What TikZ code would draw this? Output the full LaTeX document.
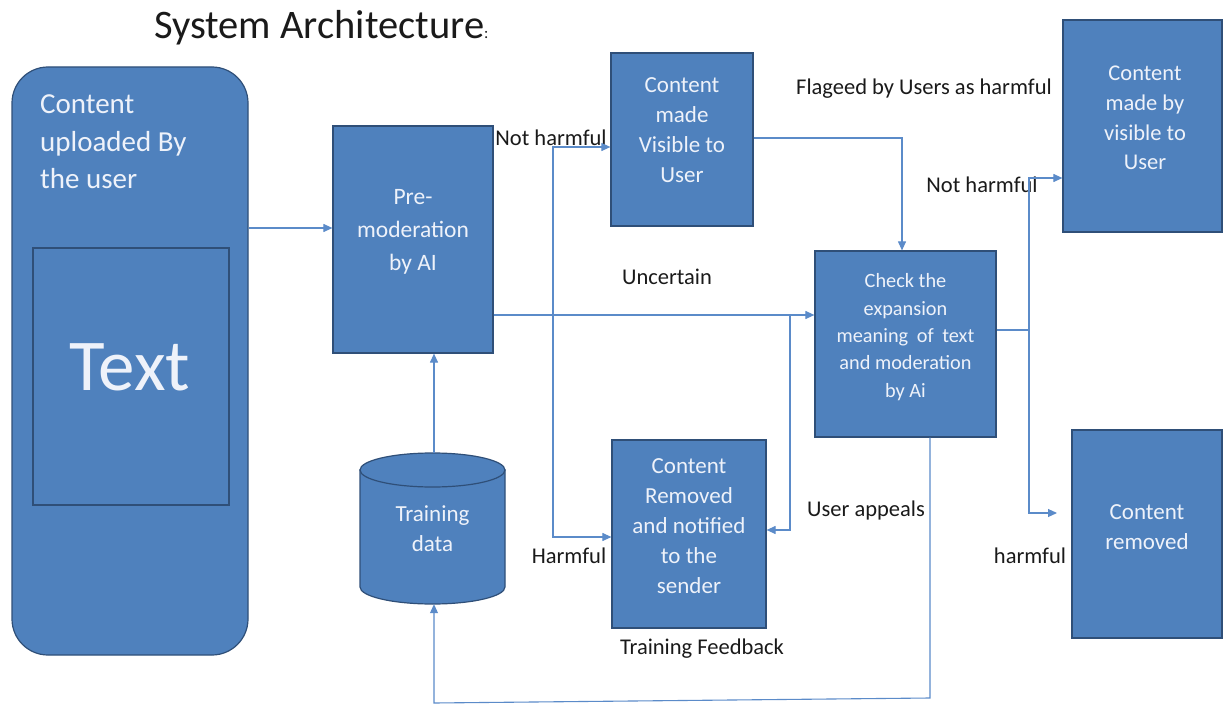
\documentclass[tikz,border=0pt]{standalone}
\usepackage{fontspec}
\setmainfont{Carlito}
\usetikzlibrary{arrows.meta}
\definecolor{boxfill}{HTML}{4F81BD}
\definecolor{boxline}{HTML}{2F4F78}
\definecolor{lineblue}{HTML}{5B8BC9}
\definecolor{boxtext}{HTML}{EEF2FA}
\definecolor{labtext}{HTML}{1A1A1A}
\tikzset{
  box/.style={draw=boxline, line width=1.2pt, fill=boxfill, inner sep=0pt},
  boxtxt/.style={text=boxtext, align=center, inner sep=0pt, font=\fontsize{23}{30}\selectfont},
  lab/.style={text=labtext, inner sep=0pt, font=\fontsize{22.5}{26}\selectfont},
  conn/.style={draw=lineblue, line width=1.1pt, -{Triangle[length=9pt,width=8pt]}},
  plain/.style={draw=lineblue, line width=1.1pt}
}
\begin{document}
\begin{tikzpicture}[x=1pt,y=-1pt]
\useasboundingbox (0,0) rectangle (1224,706);
% title
\node[anchor=west, inner sep=0pt, font=\fontsize{40.5}{44}\selectfont, text=labtext] (title) at (154,28) {System Architecture\fontsize{16}{18}\selectfont:};
% user box
\node[box, rounded corners=36pt, minimum width=236pt, minimum height=588pt] (user) at (130,361) {};
\node[anchor=west, align=left, inner sep=0pt, text=boxtext, font=\fontsize{29}{37.5}\selectfont] (utext) at (40,142) {Content\\uploaded By\\the user};
\node[box, minimum width=196pt, minimum height=257pt] (textbox) at (131,376.5) {};
\node[boxtxt, font=\fontsize{73}{80}\selectfont] (textT) at (130,367) {Text};
% pre-moderation
\node[box, minimum width=160pt, minimum height=227pt] (premod) at (413,239.5) {};
\node[boxtxt, font=\fontsize{23.5}{33}\selectfont] (premodT) at (413,232) {Pre-\\moderation\\by AI};
% visible
\node[box, minimum width=142pt, minimum height=173pt] (visible) at (682,139.5) {};
\node[boxtxt] (visibleT) at (682,130.5) {Content\\made\\Visible to\\User};
% check
\node[box, minimum width=181pt, minimum height=186pt] (check) at (905.5,344) {};
\node[boxtxt, font=\fontsize{20.3}{27.3}\selectfont] (checkT) at (905.5,337) {Check the\\expansion\\meaning\hspace{4pt} of\hspace{4pt} text\\and moderation\\by Ai};
% removed and notified
\node[box, minimum width=154pt, minimum height=188pt] (removed) at (689,534) {};
\node[boxtxt] (removedT) at (689,526) {Content\\Removed\\and notified\\to the\\sender};
% visible to user (right)
\node[box, minimum width=159pt, minimum height=212pt] (visuser) at (1142.5,126) {};
\node[boxtxt, font=\fontsize{22.5}{29.7}\selectfont] (visuserT) at (1145,118) {Content\\made by\\visible to\\User};
% content removed (right)
\node[box, minimum width=150pt, minimum height=208pt] (cremoved) at (1147,534) {};
\node[boxtxt] (cremovedT) at (1147,527) {Content\\removed};
% training data cylinder
\path[fill=boxfill, draw=boxline, line width=1.2pt] (360,470) -- (360,587) arc[start angle=180, end angle=360, x radius=72.5pt, y radius=17pt] -- (505,470) -- cycle;
\draw[fill=boxfill, draw=boxline, line width=1.2pt] (432.5,470) ellipse [x radius=72.5pt, y radius=17pt];
\node[inner sep=0pt, minimum width=145pt, minimum height=151pt] (train) at (432.5,528.5) {};
\node[boxtxt] (trainT) at (432.5,529) {Training\\data};
% labels
\node[lab] (lnh1) at (551,138) {Not harmful};
\node[lab] (lunc) at (667,277) {Uncertain};
\node[lab] (lharm) at (569,556) {Harmful};
\node[lab] (lapp) at (866,510) {User appeals};
\node[lab] (ltf) at (702,649) {Training Feedback};
\node[lab] (lflag) at (924,89) {Flageed by Users as harmful};
\node[lab] (lnh2) at (982,185) {Not harmful};
\node[lab] (lh2) at (1030,556) {harmful};
% coordinates
\coordinate (split) at (553,315);
\coordinate (ap) at (790,315);
\coordinate (sp2) at (1029,330);
\coordinate (cr) at (1057,513);
\coordinate (fb1) at (930,698);
\coordinate (fb2) at (434,703);
% connectors
\draw[conn] (user.east |- 0,228) -- (premod.west |- 0,228);
\draw[conn] (train.north -| fb2) -- (premod.south -| fb2);
\draw[conn] (premod.east |- split) -- (check.west |- split);
\draw[conn] (split) |- (visible.west |- 0,147);
\draw[conn] (split) |- (removed.west |- 0,537);
\draw[conn] (visible.east |- 0,138) -| (902,0 |- check.north);
\draw[conn] (ap) |- (removed.east |- 0,530);
\draw[plain] (check.east |- sp2) -- (sp2);
\draw[conn] (sp2) |- (visuser.west |- 0,178);
\draw[conn] (sp2) |- (cr);
\draw[conn] (check.south -| fb1) -- (fb1) -- (fb2) -- (train.south -| fb2);
\end{tikzpicture}
\end{document}
